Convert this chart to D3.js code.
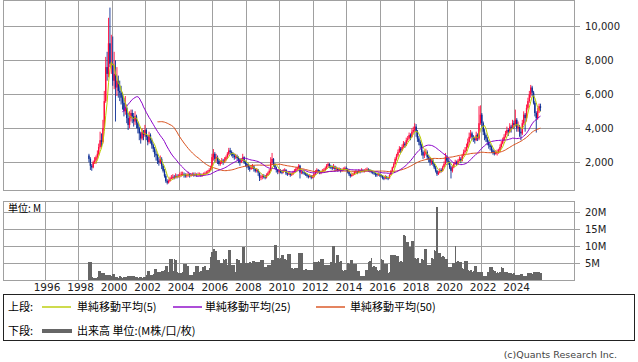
<!DOCTYPE html>
<html>
<head>
<meta charset="utf-8">
<script src="https://cdnjs.cloudflare.com/ajax/libs/d3/7.8.5/d3.min.js"></script>
<style>
  body { margin: 0; background: #fff; }
  svg { display: block; }
</style>
</head>
<body>
<svg id="chart"></svg>
<script>
// monthly bars, first one is Aug 1998
const firstMonth = new Date(1998, 7, 1);
const firstOpen = 2400;

const closes = [
  2200,1800,1700,2000,2100,                                   // 1998
  2300,2500,2900,3300,3200,4000,5600,7600,7200,9000,7800,7800, // 1999
  6800,7200,6400,6800,6200,6100,5800,5500,5000,5200,4600,4200, // 2000
  4600,4900,4700,4400,4700,4300,4000,3700,3400,3800,3600,3900, // 2001
  3500,3200,3600,3300,3000,2800,2500,2400,2100,2000,2200,1800, // 2002
  1500,1200,900,800,900,1050,1100,1150,1100,1200,1150,1200,    // 2003
  1250,1300,1300,1250,1200,1250,1300,1200,1250,1300,1250,1300, // 2004
  1250,1300,1300,1250,1250,1300,1350,1400,1450,1550,1650,2300, // 2005
  2500,2200,2300,2100,1900,2000,2100,2000,2150,2300,2500,2700, // 2006
  2600,2500,2400,2300,2350,2250,2150,2000,2100,2300,2000,1900, // 2007
  1800,1700,1600,1700,1750,1600,1500,1550,1400,1100,1150,1200, // 2008
  1150,1100,1250,1350,1500,2000,2200,1900,1700,1550,1450,1500, // 2009
  1450,1400,1500,1550,1350,1300,1350,1250,1300,1400,1500,1600, // 2010
  1650,1800,1400,1450,1400,1350,1300,1200,1150,1200,1100,1150, // 2011
  1300,1450,1550,1500,1400,1450,1500,1550,1650,1800,1900,1750, // 2012
  1700,1650,1750,1600,1650,1550,1600,1500,1550,1600,1650,1600, // 2013
  1450,1300,1200,1250,1300,1400,1450,1400,1500,1450,1550,1500, // 2014
  1500,1550,1600,1550,1500,1450,1400,1350,1300,1250,1300,1250, // 2015
  1200,1100,1050,1150,1100,1050,1250,1500,1700,1900,2200,2400, // 2016
  2600,2800,2700,2900,3100,3000,3300,3400,3600,3500,3800,3900, // 2017
  4100,3800,3400,3200,3000,2600,2400,2500,2600,2300,2200,2000, // 2018
  2100,1900,1700,1500,1300,1400,1550,1500,1700,1900,2300,2100, // 2019
  2000,1700,1500,1700,1900,2000,1900,2100,2200,2100,2400,2600, // 2020
  2700,2900,3200,3500,3700,3500,3400,3300,3600,3400,4300,4800, // 2021
  4300,3800,3600,3400,3200,3000,2900,2700,2600,2500,2550,2600, // 2022
  2700,2900,3100,3300,3500,3700,3900,3800,4100,4000,4300,4200, // 2023
  4500,4000,4100,3800,3700,4300,4800,4600,5200,5600,6000,6400, // 2024
  6100,5500,4900,4600,5000,5300,5200                           // 2025
];

const highs = [
  2500,2300,1900,2100,2300,
  2400,2700,3100,3800,3700,4500,6200,8200,8500,10500,11100,9500,
  9400,8500,8000,7600,7100,6800,6500,6100,5800,5900,5400,4900,
  5000,5100,5100,4900,5000,4800,4400,4100,3800,4000,3900,4200,
  4000,3600,3800,3700,3400,3100,2900,2700,2500,2300,2400,2300,
  1900,1600,1300,1000,1000,1150,1250,1300,1250,1350,1300,1300,
  1400,1450,1450,1400,1350,1350,1450,1350,1350,1400,1400,1400,
  1350,1400,1400,1350,1350,1400,1450,1500,1550,1650,1800,2500,
  2780,2600,2500,2400,2200,2100,2250,2200,2300,2400,2600,2850,
  2850,2700,2600,2500,2500,2450,2350,2250,2250,2500,2350,2100,
  2000,1900,1800,1850,1900,1800,1650,1650,1600,1400,1250,1300,
  1300,1250,1350,1450,1600,2300,2550,2250,1950,1750,1600,1600,
  1600,1500,1600,1650,1600,1400,1450,1400,1400,1500,1600,1700,
  1750,1900,1850,1550,1500,1450,1400,1350,1250,1300,1250,1250,
  1350,1550,1650,1600,1550,1500,1600,1650,1750,1900,2000,1950,
  1850,1800,1900,1800,1750,1700,1700,1650,1650,1700,1750,1750,
  1650,1500,1350,1350,1400,1500,1550,1500,1600,1550,1650,1600,
  1600,1650,1700,1650,1600,1550,1500,1450,1400,1350,1400,1350,
  1300,1250,1150,1250,1200,1150,1300,1550,1750,2000,2300,2500,
  2750,2950,2900,3050,3250,3200,3450,3550,3750,3700,4000,4100,
  4300,4250,3900,3550,3300,3100,2700,2700,2800,2700,2450,2300,
  2250,2200,1950,1800,1550,1500,1650,1650,1800,2050,2550,2400,
  2250,2100,1800,1800,2000,2150,2100,2200,2350,2300,2500,2750,
  2900,3100,3400,3750,3900,3800,3600,3500,3800,3700,5300,5350,
  4900,4400,3950,3700,3500,3300,3100,3000,2800,2700,2700,2750,
  2800,3050,3250,3450,3650,3850,4100,4000,4300,4200,4500,4450,
  5100,4600,4400,4200,4000,4500,5000,4900,5400,5800,6200,6550,
  6500,6200,5600,5000,5200,5450,5450
];

const lows = [
  2000,1550,1500,1650,1900,
  1900,2200,2400,2800,2900,3100,3900,5500,6800,7000,7600,7200,
  6500,6300,4400,5900,5800,5600,5400,5100,4700,4800,4300,3900,
  4000,4400,4300,4100,4200,4000,3700,3300,3100,3300,3300,3500,
  3300,3000,3100,3100,2800,2600,2300,2100,1900,1800,1900,1600,
  1400,1100,800,700,750,850,1000,1000,1000,1050,1050,1100,
  1100,1150,1200,1100,1100,1100,1150,1100,1150,1200,1150,1200,
  1150,1200,1200,1150,1150,1200,1250,1300,1350,1400,1500,1600,
  2100,2000,2000,1900,1800,1800,1900,1850,1950,2050,2200,2400,
  2450,2350,2250,2150,2200,2100,1950,1800,1950,2050,1900,1750,
  1650,1550,1450,1550,1600,1450,1400,1400,1200,900,950,1000,
  1050,1000,1050,1200,1300,1450,1850,1750,1600,1400,1300,1350,
  1350,1300,1350,1450,1250,1200,1250,1150,1200,1250,1400,1450,
  1500,1600,1050,1300,1300,1250,1200,1100,1050,1100,1000,1050,
  1100,1250,1400,1400,1300,1300,1400,1450,1500,1600,1700,1650,
  1600,1550,1600,1500,1500,1450,1500,1400,1450,1500,1550,1500,
  1350,1200,1100,1150,1200,1250,1350,1300,1350,1350,1400,1400,
  1400,1450,1500,1450,1400,1350,1300,1250,1150,1150,1200,1150,
  1100,1000,950,1000,1000,950,1050,1250,1450,1650,1850,2100,
  2300,2550,2550,2650,2850,2850,2950,3200,3350,3300,3450,3700,
  3800,3500,3200,3000,2800,2400,2200,2250,2400,2150,2000,1800,
  1850,1800,1600,1400,1200,1250,1350,1400,1450,1700,1850,2000,
  1850,1600,1050,1400,1650,1850,1800,1850,2050,1950,2050,2350,
  2500,2650,2850,3100,3400,3300,3200,3100,3250,3250,3300,4200,
  4100,3600,3300,3200,3000,2800,2700,2550,2450,2400,2450,2400,
  2500,2600,2850,3050,3250,3450,3600,3550,3750,3750,3950,3950,
  4100,3800,3800,3500,3300,3600,4200,3800,4400,5100,5500,5800,
  5900,5400,4700,3750,4500,4900,5000
];

// volume, millions
const volumes = [
  5.4,5.4,0.8,0.7,0.6,
  0.7,1.0,2.7,2.6,2.2,2.2,2.1,1.6,1.5,1.4,1.5,1.3,
  1.8,1.7,1.0,0.8,0.7,1.2,0.9,0.7,0.8,0.8,0.7,1.2,
  1.2,1.3,1.2,1.1,0.8,0.8,0.7,0.9,0.8,0.7,0.8,0.9,
  1.5,2.7,2.7,1.6,1.6,1.7,3.2,3.2,2.5,2.4,2.5,2.6,
  2.6,3.0,4.0,4.1,2.5,6.2,6.2,2.6,6.2,6.0,2.3,2.2,
  2.2,2.0,2.3,4.7,4.6,4.1,4.0,1.5,1.6,1.4,2.5,4.1,
  4.1,4.0,2.5,2.6,3.9,3.8,4.0,3.0,2.9,3.5,6.7,8.3,
  9.3,8.3,8.5,5.9,6.0,4.9,5.0,6.2,6.0,6.2,4.5,9.0,
  9.0,4.4,4.5,4.3,2.5,6.1,6.0,4.9,5.0,9.8,9.7,5.1,
  5.1,5.0,5.2,5.1,5.6,5.5,5.4,5.2,5.4,5.3,5.9,6.0,
  3.9,3.8,3.9,4.4,4.5,4.3,5.9,5.8,10.3,10.2,6.4,6.3,
  6.4,7.4,7.3,6.1,6.0,7.8,7.7,7.8,3.4,3.3,3.5,3.4,
  3.4,8.0,8.0,8.0,3.1,3.0,3.2,3.1,3.0,3.1,2.9,2.9,
  5.4,5.3,5.4,5.5,5.4,6.2,6.2,4.4,4.4,4.5,4.4,4.3,
  5.4,10.0,10.0,4.9,7.4,7.3,5.4,5.5,2.9,2.8,3.0,2.9,
  4.9,4.8,5.9,5.8,4.7,4.6,4.7,2.7,2.6,1.2,1.2,1.1,
  1.2,2.9,3.0,5.4,5.5,6.4,3.9,4.0,3.9,2.9,2.8,3.0,
  6.1,6.0,4.7,4.8,4.6,2.2,2.3,7.4,7.4,7.3,7.4,7.1,
  7.1,5.4,5.5,5.4,13.2,13.0,11.3,11.2,9.8,9.8,11.6,11.5,
  6.4,6.3,6.4,5.1,5.0,6.1,6.0,9.3,9.2,4.4,4.3,4.5,
  6.4,6.3,8.8,8.7,21.6,8.0,8.1,6.9,7.0,6.9,6.1,6.2,
  3.9,3.8,3.9,5.1,5.0,10.0,5.4,5.5,5.3,5.4,3.4,3.3,
  5.6,5.5,2.9,2.8,2.9,2.5,2.6,4.1,4.0,2.5,2.4,2.5,
  2.4,1.2,1.3,1.2,2.5,2.4,3.9,3.8,2.9,2.8,2.2,2.3,
  2.2,2.3,3.7,3.6,2.5,2.4,2.5,2.0,2.1,2.0,1.9,2.0,
  1.5,1.6,1.5,1.4,1.8,1.9,1.2,1.3,1.2,2.0,2.1,2.0,
  1.8,2.3,2.3,2.4,2.3,2.3,2.2
];

const yearTicks = [1996,1998,2000,2002,2004,2006,2008,2010,2012,2014,2016,2018,2020,2022,2024];
const priceTicks = [2000,4000,6000,8000,10000];
const volTicks = [5,10,15,20];
const maPeriods = [5, 25, 50];
const maColors = ["#b9cc00", "#8a00c8", "#d8501c"];
const maLabels = ["単純移動平均(5)", "単純移動平均(25)", "単純移動平均(50)"];

const W = 638, H = 362;
const left = 3.5, right = 574.5;
const pTop = 0.5, pBot = 190.5, vTop = 201.5, vBot = 280.5;
const gridColor = "#a0a0a0";
const upColor = "#ff0a3c", downColor = "#0b2c94";

const svg = d3.select("#chart").attr("width", W).attr("height", H)
  .style("font-family", "'DejaVu Sans', Verdana, sans-serif");

const x = d3.scaleTime()
  .domain([new Date(1996, 0, 1), new Date(2024, 0, 1)])
  .range([45, 514.7]);
const yP = d3.scaleLinear().domain([0, 10000]).range([196.3, 26.3]);
const yV = d3.scaleLinear().domain([0, 20]).range([280, 212.3]);

const data = closes.map((c, i) => ({
  start: d3.timeMonth.offset(firstMonth, i),
  end: d3.timeMonth.offset(firstMonth, i + 1),
  mid: new Date(firstMonth.getFullYear(), firstMonth.getMonth() + i, 15),
  open: i ? closes[i - 1] : firstOpen,
  close: c, high: highs[i], low: lows[i], vol: volumes[i]
}));

svg.append("clipPath").attr("id", "clipP")
  .append("rect").attr("x", left).attr("y", pTop).attr("width", right - left).attr("height", pBot - pTop);

// grids
function grid(top, bot, yTicks, yScale) {
  const g = svg.append("g").attr("shape-rendering", "crispEdges");
  g.selectAll(".vx").data(yearTicks).enter().append("line")
    .attr("x1", d => x(new Date(d, 0, 1))).attr("x2", d => x(new Date(d, 0, 1)))
    .attr("y1", top).attr("y2", bot).attr("stroke", gridColor);
  g.selectAll(".hy").data(yTicks).enter().append("line")
    .attr("x1", left).attr("x2", right + 5)
    .attr("y1", d => yScale(d)).attr("y2", d => yScale(d)).attr("stroke", gridColor);
  g.append("rect").attr("x", left).attr("y", top).attr("width", right - left).attr("height", bot - top)
    .attr("fill", "none").attr("stroke", gridColor);
}
grid(pTop, pBot, priceTicks, yP);
grid(vTop, vBot, volTicks, yV);

// candles
const candles = svg.append("g").attr("clip-path", "url(#clipP)");
candles.selectAll(".wick").data(data).enter().append("line")
  .attr("x1", d => x(d.mid)).attr("x2", d => x(d.mid))
  .attr("y1", d => yP(d.high)).attr("y2", d => yP(d.low))
  .attr("stroke", d => d.close >= d.open ? upColor : downColor).attr("stroke-width", 0.9);
candles.selectAll(".body").data(data).enter().append("rect")
  .attr("x", d => x(d.mid) - 0.7).attr("width", 1.4)
  .attr("y", d => yP(Math.max(d.open, d.close)))
  .attr("height", d => Math.max(1, Math.abs(yP(d.open) - yP(d.close))))
  .attr("fill", d => d.close >= d.open ? upColor : downColor);

// moving averages
maPeriods.slice().reverse().forEach((n, k) => {
  const idx = maPeriods.length - 1 - k;
  const ma = closes.map((c, i) => i < n - 1 ? null : d3.mean(closes.slice(i - n + 1, i + 1)));
  const line = d3.line().defined(d => d[1] != null)
    .x(d => x(d[0])).y(d => yP(d[1]));
  candles.append("path").datum(data.map((d, i) => [d.mid, ma[i]]))
    .attr("d", line).attr("fill", "none")
    .attr("stroke", maColors[idx]).attr("stroke-width", 1);
});

// volume
svg.append("g").attr("shape-rendering", "crispEdges")
  .selectAll("rect").data(data).enter().append("rect")
  .attr("x", d => x(d.start)).attr("width", d => x(d.end) - x(d.start) + 0.4)
  .attr("y", d => yV(d.vol)).attr("height", d => yV(0) - yV(d.vol))
  .attr("fill", "#666");

// right axis labels
svg.selectAll(".pl").data(priceTicks).enter().append("text")
  .attr("x", 585).attr("y", d => yP(d) + 3.5)
  .attr("font-size", 10).attr("fill", "#222").text(d3.format(","));
svg.selectAll(".vl").data(volTicks).enter().append("text")
  .attr("x", 585).attr("y", d => yV(d) + 3.5)
  .attr("font-size", 10).attr("fill", "#222").text(d => d + "M");
svg.selectAll(".yl").data(yearTicks).enter().append("text")
  .attr("x", d => x(new Date(d, 0, 1)) + 2).attr("y", 291)
  .attr("text-anchor", "middle").attr("font-size", 10.5).attr("fill", "#222").text(d => d);

svg.append("text").attr("x", 8).attr("y", 212).attr("font-size", 10)
  .style("font-family", "'Noto Sans CJK JP', sans-serif").text("単位: M");

// legend
const lg = svg.append("g").style("font-family", "'Noto Sans CJK JP', sans-serif").attr("font-size", 11);
lg.append("rect").attr("x", 3.5).attr("y", 294.5).attr("width", 631).attr("height", 46)
  .attr("fill", "none").attr("stroke", "#222").attr("shape-rendering", "crispEdges");
lg.append("text").attr("x", 8).attr("y", 311).text("上段:");
const lineX = [42, 173, 316], textX = [77, 205, 350];
maLabels.forEach((t, i) => {
  lg.append("line").attr("x1", lineX[i]).attr("x2", lineX[i] + 29).attr("y1", 307).attr("y2", 307)
    .attr("stroke", maColors[i]).attr("stroke-width", 1.4);
  lg.append("text").attr("x", textX[i]).attr("y", 311).text(t);
});
lg.append("text").attr("x", 8).attr("y", 335).text("下段:");
lg.append("line").attr("x1", 42).attr("x2", 72).attr("y1", 331).attr("y2", 331)
  .attr("stroke", "#666").attr("stroke-width", 4);
lg.append("text").attr("x", 77).attr("y", 335).text("出来高 単位:(M株/口/枚)");

svg.append("text").attr("x", 617).attr("y", 358).attr("text-anchor", "end")
  .attr("font-size", 9.5).attr("fill", "#444").text("(c)Quants Research Inc.");
</script>
</body>
</html>
